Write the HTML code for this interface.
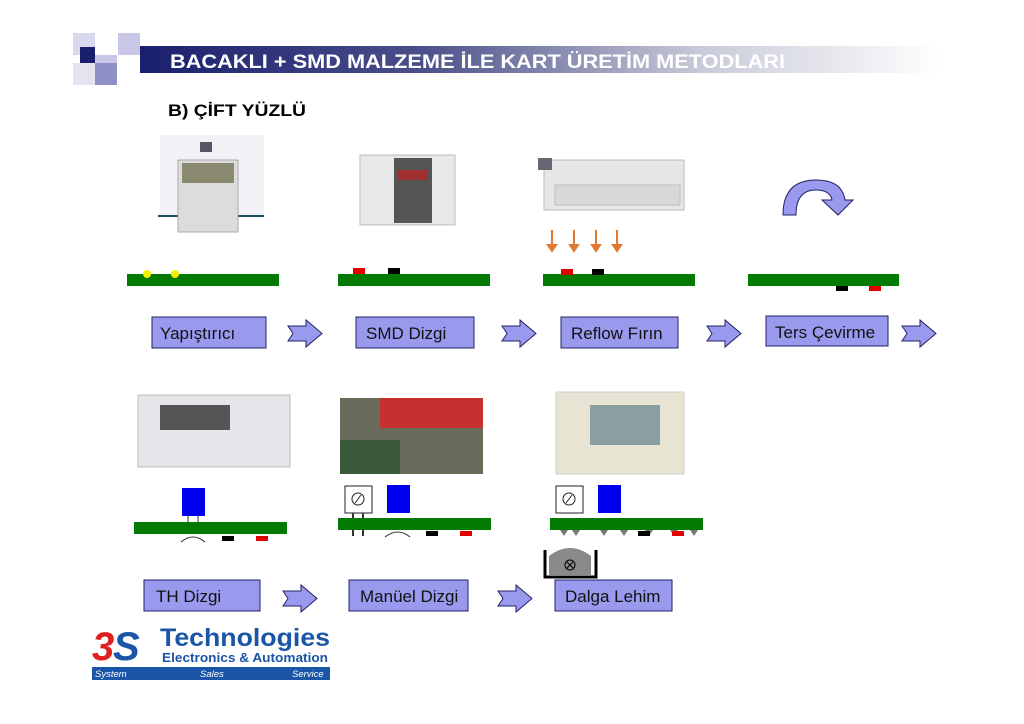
<!DOCTYPE html>
<html><head><meta charset="utf-8"><style>
body{margin:0;background:#fff;}
svg{display:block;font-family:"Liberation Sans",Arial,sans-serif;}
</style></head><body>
<svg width="1024" height="724" viewBox="0 0 1024 724" xmlns="http://www.w3.org/2000/svg">
<defs>
<linearGradient id="hb" x1="0" x2="1" y1="0" y2="0">
<stop offset="0" stop-color="#1a1f6e"/><stop offset="0.35" stop-color="#4a4f8a"/><stop offset="0.7" stop-color="#c8cad8"/><stop offset="1" stop-color="#fff"/></linearGradient>
<g id="ar"><path d="M0,6 L18,6 L18,0 L34,13.5 L18,27 L18,21 L0,21 L5,13.5 Z" fill="#9999ee" stroke="#222266" stroke-width="1"/></g>
</defs>
<!-- header squares -->
<rect x="73" y="33" width="22" height="22" fill="#d8d8ec"/>
<rect x="118" y="33" width="22" height="22" fill="#c8c8e6"/>
<rect x="80" y="47" width="15" height="16" fill="#1a1f6e"/>
<rect x="95" y="55" width="22" height="22" fill="#c8c8e6"/>
<rect x="73" y="63" width="22" height="22" fill="#e4e4f0"/>
<rect x="95" y="63" width="22" height="22" fill="#9090c8"/>
<rect x="140" y="46" width="800" height="27" fill="url(#hb)"/>
<text x="170" y="68" font-size="19" font-weight="bold" fill="#fff" textLength="615" lengthAdjust="spacingAndGlyphs">BACAKLI + SMD MALZEME İLE KART ÜRETİM METODLARI</text>
<text x="168" y="116" font-size="17" font-weight="bold" fill="#000" textLength="138" lengthAdjust="spacingAndGlyphs">B) ÇİFT YÜZLÜ</text>

<!-- row1 machines -->
<rect x="160" y="135" width="104" height="82" fill="#f2f2f6"/>
<rect x="158" y="215" width="106" height="2" fill="#1f4a66"/>
<rect x="178" y="160" width="60" height="72" fill="#dcdcdc" stroke="#aaa"/>
<rect x="182" y="163" width="52" height="20" fill="#8a8a70"/>
<rect x="200" y="142" width="12" height="10" fill="#556"/>
<rect x="360" y="155" width="95" height="70" fill="#e8e8e8" stroke="#bbb"/>
<rect x="394" y="158" width="38" height="65" fill="#555"/>
<rect x="398" y="170" width="30" height="10" fill="#a03030"/>
<rect x="544" y="160" width="140" height="50" fill="#e6e6e6" stroke="#bbb"/>
<rect x="555" y="185" width="125" height="20" fill="#d8d8d8" stroke="#c0c0c0"/>
<rect x="538" y="158" width="14" height="12" fill="#667"/>
<!-- curved arrow -->
<path d="M783,215 Q783,180 816,180 Q842,180 845,200 L853,200 L838,215 L822,200 L832,200 Q830,190 816,190 Q796,190 796,215 Z" fill="#9999ee" stroke="#222266"/>
<!-- reflow arrows -->
<g stroke="#e07830" stroke-width="2" fill="#e07830">
<line x1="552" y1="230" x2="552" y2="247"/><path d="M548,245 L556,245 L552,251Z"/>
<line x1="574" y1="230" x2="574" y2="247"/><path d="M570,245 L578,245 L574,251Z"/>
<line x1="596" y1="230" x2="596" y2="247"/><path d="M592,245 L600,245 L596,251Z"/>
<line x1="617" y1="230" x2="617" y2="247"/><path d="M613,245 L621,245 L617,251Z"/>
</g>
<!-- row1 PCBs -->
<rect x="127" y="274" width="152" height="12" fill="#037a03"/>
<circle cx="147" cy="274" r="4" fill="#f0f000"/><circle cx="175" cy="274" r="4" fill="#f0f000"/>
<rect x="338" y="274" width="152" height="12" fill="#037a03"/>
<rect x="353" y="268" width="12" height="6" fill="#e00000"/><rect x="388" y="268" width="12" height="6" fill="#000"/>
<rect x="543" y="274" width="152" height="12" fill="#037a03"/>
<rect x="561" y="269" width="12" height="6" fill="#e00000"/><rect x="592" y="269" width="12" height="6" fill="#000"/>
<rect x="748" y="274" width="151" height="12" fill="#037a03"/>
<rect x="836" y="286" width="12" height="5" fill="#000"/><rect x="869" y="286" width="12" height="5" fill="#e00000"/>
<!-- boxes -->
<g fill="#9999ee" stroke="#222266" stroke-width="1">
<rect x="152" y="317" width="114" height="31"/>
<rect x="356" y="317" width="118" height="31"/>
<rect x="561" y="317" width="117" height="31"/>
<rect x="766" y="316" width="122" height="30"/>
<rect x="144" y="580" width="116" height="31"/>
<rect x="349" y="580" width="119" height="31"/>
<rect x="555" y="580" width="117" height="31"/>
</g>
<g font-size="17" fill="#111">
<text x="160" y="339">Yapıştırıcı</text>
<text x="366" y="339">SMD Dizgi</text>
<text x="571" y="339">Reflow Fırın</text>
<text x="775" y="338">Ters Çevirme</text>
<text x="156" y="602">TH Dizgi</text>
<text x="360" y="602">Manüel Dizgi</text>
<text x="565" y="602">Dalga Lehim</text>
</g>
<use href="#ar" x="288" y="320"/><use href="#ar" x="502" y="320"/><use href="#ar" x="707" y="320"/><use href="#ar" x="902" y="320"/>
<use href="#ar" x="283" y="585"/><use href="#ar" x="498" y="585"/>

<!-- row2 machines -->
<rect x="138" y="395" width="152" height="72" fill="#e6e6ea" stroke="#bbb"/>
<rect x="160" y="405" width="70" height="25" fill="#555"/>
<rect x="340" y="398" width="143" height="76" fill="#6a6a5a"/>
<rect x="380" y="398" width="103" height="30" fill="#c83030"/>
<rect x="340" y="440" width="60" height="34" fill="#3a5a3a"/>
<rect x="556" y="392" width="128" height="82" fill="#e8e4d4" stroke="#ccc"/>
<rect x="590" y="405" width="70" height="40" fill="#8aa0a0"/>
<!-- row2 PCBs -->
<rect x="182" y="488" width="23" height="28" fill="#0000ee"/>
<line x1="188" y1="516" x2="188" y2="522" stroke="#333"/><line x1="198" y1="516" x2="198" y2="522" stroke="#333"/>
<rect x="134" y="522" width="153" height="12" fill="#037a03"/>
<path d="M181,542 Q193,532 205,542" stroke="#333" fill="none"/>
<rect x="222" y="536" width="12" height="5" fill="#000"/><rect x="256" y="536" width="12" height="5" fill="#e00000"/>

<rect x="345" y="486" width="27" height="27" fill="#fff" stroke="#222"/><circle cx="358" cy="499" r="6" fill="none" stroke="#222"/><line x1="355" y1="503" x2="361" y2="495" stroke="#222"/>
<rect x="387" y="485" width="23" height="28" fill="#0000ee"/>
<line x1="353" y1="513" x2="353" y2="536" stroke="#333" stroke-width="2"/><line x1="363" y1="513" x2="363" y2="536" stroke="#333" stroke-width="2"/>
<rect x="338" y="518" width="153" height="12" fill="#037a03"/>
<path d="M385,537 Q398,527 410,537" stroke="#333" fill="none"/>
<rect x="426" y="531" width="12" height="5" fill="#000"/><rect x="460" y="531" width="12" height="5" fill="#e00000"/>

<rect x="556" y="486" width="27" height="27" fill="#fff" stroke="#222"/><circle cx="569" cy="499" r="6" fill="none" stroke="#222"/><line x1="566" y1="503" x2="572" y2="495" stroke="#222"/>
<rect x="598" y="485" width="23" height="28" fill="#0000ee"/>
<rect x="550" y="518" width="153" height="12" fill="#037a03"/>
<g fill="#777"><path d="M560,530 L568,530 L564,536Z"/><path d="M572,530 L580,530 L576,536Z"/><path d="M600,530 L608,530 L604,536Z"/><path d="M620,530 L628,530 L624,536Z"/><path d="M645,530 L653,530 L649,536Z"/><path d="M670,530 L678,530 L674,536Z"/><path d="M690,530 L698,530 L694,536Z"/></g>
<rect x="638" y="531" width="12" height="5" fill="#000"/><rect x="672" y="531" width="12" height="5" fill="#e00000"/>
<!-- solder bath -->
<path d="M549,575 L549,556 Q570,540 591,556 L591,575 Z" fill="#8a8a8a"/>
<path d="M545,550 L545,577 L596,577 L596,550" fill="none" stroke="#000" stroke-width="3"/>
<circle cx="570" cy="565" r="5" fill="none" stroke="#000"/><path d="M567,562 L573,568 M573,562 L567,568" stroke="#000"/>

<!-- logo -->
<text x="92" y="660" font-size="40" font-weight="bold" font-style="italic" fill="#e02020">3</text>
<text x="113" y="660" font-size="40" font-weight="bold" font-style="italic" fill="#1a55a8">S</text>
<text x="160" y="646" font-size="25" font-weight="bold" fill="#1a55a8" textLength="170" lengthAdjust="spacingAndGlyphs">Technologies</text>
<text x="162" y="662" font-size="12.5" font-weight="bold" fill="#1a55a8" textLength="166" lengthAdjust="spacingAndGlyphs">Electronics &amp; Automation</text>
<rect x="92" y="667" width="238" height="13" fill="#1a55a8"/>
<g font-size="9.5" font-style="italic" fill="#fff"><text x="95" y="677">System</text><text x="200" y="677">Sales</text><text x="292" y="677">Service</text></g>
</svg>
</body></html>
